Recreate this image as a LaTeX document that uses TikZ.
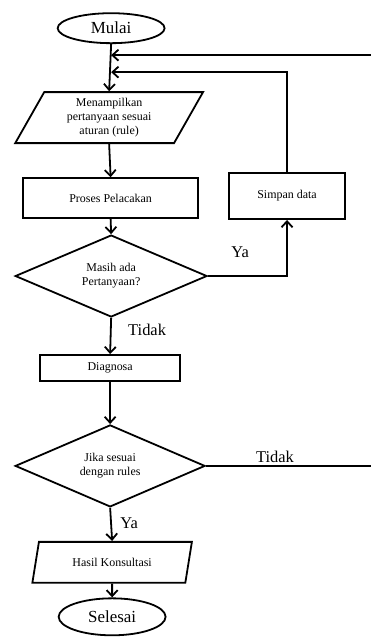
\documentclass[tikz,border=0pt]{standalone}
\usepackage{fontspec}
\setmainfont{Liberation Serif}
\usepackage{tikz}
\usetikzlibrary{calc, arrows.meta, shapes}
\tikzset{>={Straight Barb[length=6bp,width=11bp]}}
\tikzset{mulaiselesai/.style = {draw, ellipse, line width=1.8bp, inner sep=0pt, minimum width=107bp, font=\fontsize{17}{19}\selectfont},
  kotak/.style = {draw, rectangle, line width=1.8bp, inner sep=0pt, align=center, font=\fontsize{12}{14}\selectfont},
  jajargenjang/.style = {draw, trapezium, trapezium stretches, line width=1.8bp, inner sep=0pt, align=center, font=\fontsize{12}{14}\selectfont},
  keputusan/.style = {draw, diamond, aspect=2.3, line width=1.8bp, inner sep=0pt, align=center, font=\fontsize{12}{14}\selectfont},
  alur/.style = {->, line width=1.8bp},
  ket/.style = {font=\fontsize{16.5}{18}\selectfont}}

\begin{document}
\begin{tikzpicture}[x=1bp, y=-1bp]
\draw[opacity = 0] (0,0) rectangle (371,642);

\node[mulaiselesai, minimum height=30bp] (mulai) at (111,28) {Mulai};
\node[jajargenjang, trapezium left angle=64, trapezium right angle=116, minimum width=188bp, minimum height=51bp] (tampil) at (109,117.5) {Menampilkan\\pertanyaan sesuai\\aturan (rule)};
\node[kotak, minimum width=175bp, minimum height=40bp] (proses) at (110.5,198) {Proses Pelacakan};
\node[kotak, minimum width=116bp, minimum height=46bp] (simpan) at (287,196) {Simpan data};
\node[keputusan, minimum width=192bp, minimum height=82bp] (tanya) at (111,276) {Masih ada\\Pertanyaan?};
\node[kotak, minimum width=140bp, minimum height=26bp] (diagnosa) at (110,368) {Diagnosa};
\node[keputusan, minimum width=190bp, minimum height=82bp] (sesuai) at (110,466) {Jika sesuai\\dengan rules};
\node[jajargenjang, trapezium left angle=67, trapezium right angle=113, minimum width=160bp, minimum height=41bp] (hasil) at (112,562.5) {Hasil Konsultasi};
\node[mulaiselesai, minimum height=37bp] (selesai) at (112,617) {Selesai};

\coordinate (ujung1) at (371,55);
\coordinate (ujung2) at (371,466);
\coordinate (titik1) at (111,55);
\coordinate (titik2) at (111,72);

\draw[alur] (mulai.south) -- (tampil.north);
\draw[alur] (ujung1) -- (titik1);
\draw[alur] (simpan.north) |- (titik2);
\draw[alur] (tampil.south) -- (proses.north);
\draw[alur] (proses.south) -- (tanya.north);
\draw[alur] (tanya.east) -| (simpan.south);
\draw[alur] (tanya.south) -- (diagnosa.north);
\draw[alur] (diagnosa.south) -- (sesuai.north);
\draw[line width=1.8bp] (sesuai.east) -- (ujung2);
\draw[alur] (sesuai.south) -- (hasil.north);
\draw[alur] (hasil.south) -- (selesai.north);

\node[ket] (ya1) at (240,252) {Ya};
\node[ket] (tidak1) at (147,330) {Tidak};
\node[ket] (tidak2) at (275,457) {Tidak};
\node[ket] (ya2) at (129,523) {Ya};
\end{tikzpicture}
\end{document}
